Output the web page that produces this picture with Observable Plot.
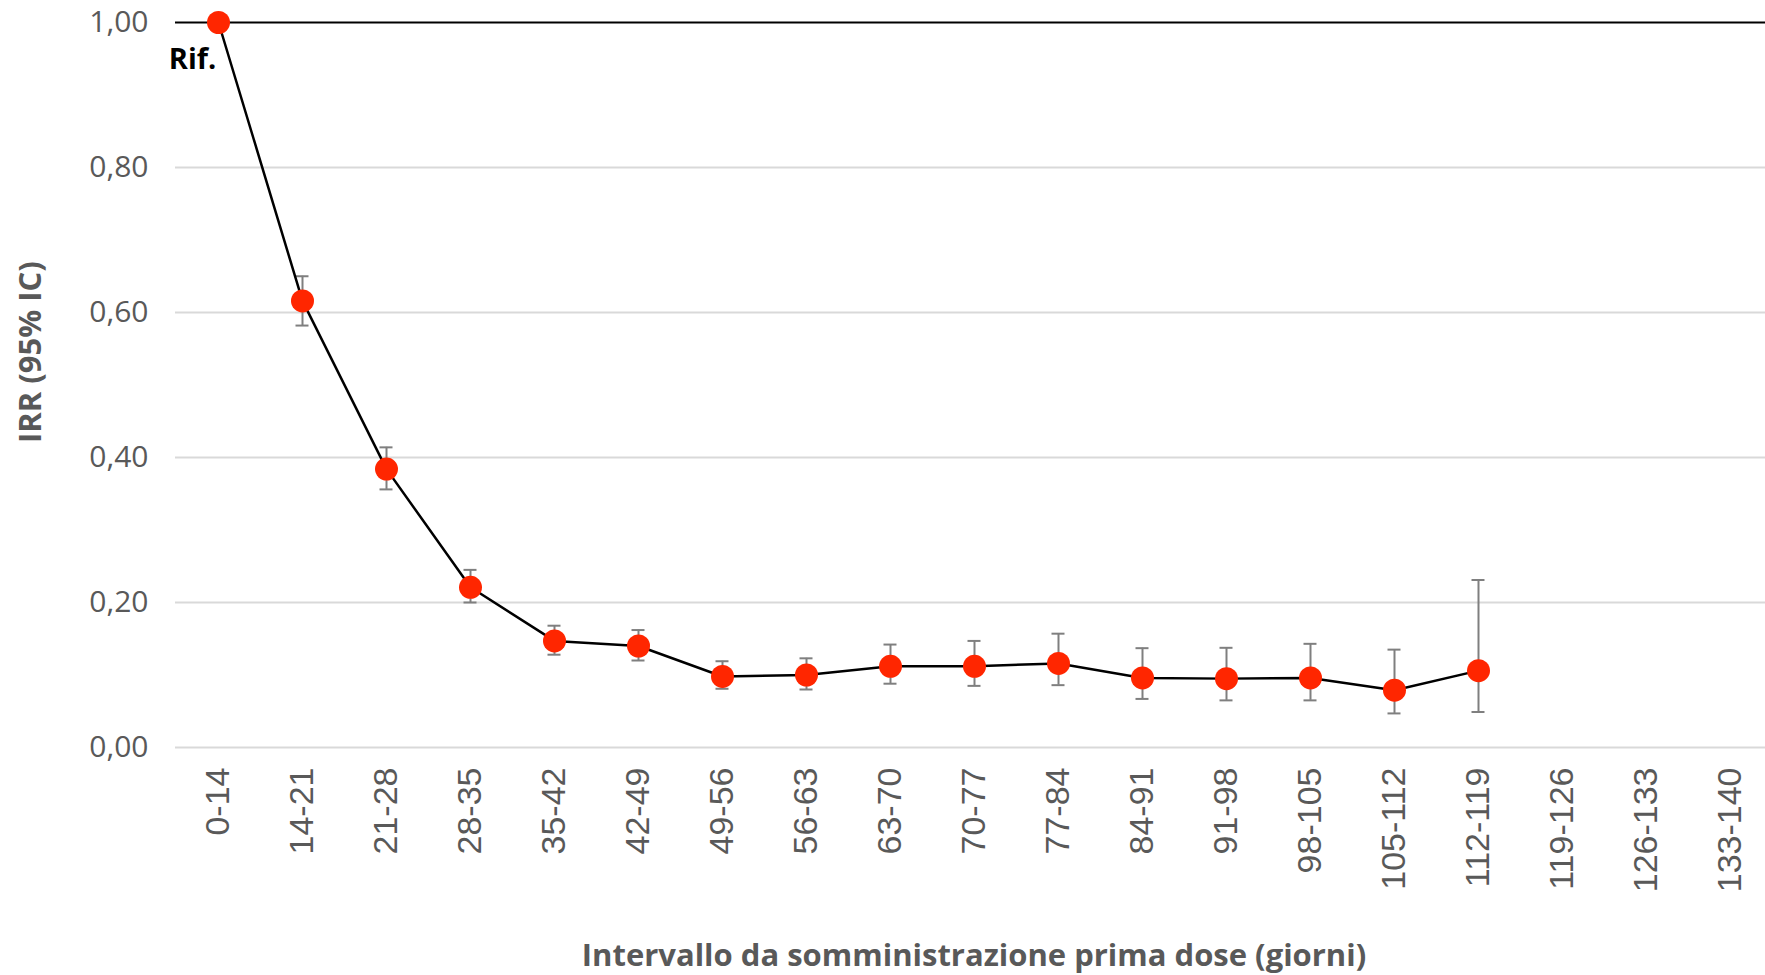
<!DOCTYPE html>
<html>
<head>
<meta charset="utf-8">
<script src="https://cdn.jsdelivr.net/npm/d3@7"></script>
<script src="https://cdn.jsdelivr.net/npm/@observablehq/plot@0.6"></script>
<style>
  html, body { margin: 0; padding: 0; background: #fff; }
  #chart svg { display: block; }
</style>
</head>
<body>
<div id="chart"></div>
<script>
const categories = ["0-14","14-21","21-28","28-35","35-42","42-49","49-56","56-63","63-70","70-77","77-84","84-91","91-98","98-105","105-112","112-119","119-126","126-133","133-140"];
const irr   = [1.00, 0.616, 0.384, 0.221, 0.147, 0.140, 0.098, 0.100, 0.112, 0.112, 0.116, 0.096, 0.095, 0.096, 0.079, 0.106, null, null, null];
const lower = [null, 0.582, 0.356, 0.200, 0.128, 0.120, 0.081, 0.080, 0.088, 0.085, 0.086, 0.067, 0.065, 0.065, 0.047, 0.049, null, null, null];
const upper = [null, 0.650, 0.414, 0.245, 0.168, 0.162, 0.119, 0.123, 0.142, 0.147, 0.157, 0.137, 0.1375, 0.143, 0.135, 0.231, null, null, null];
const yTicks = [0, 0.2, 0.4, 0.6, 0.8, 1.0];
const gridTicks = [0, 0.2, 0.4, 0.6, 0.8];
const refLine = [1.0];
const refLabel = "Rif.";
const yTitle = "IRR (95% IC)";
const xTitle = "Intervallo da somministrazione prima dose (giorni)";

const data = categories.map((c, i) => ({cat: c, v: irr[i], lo: lower[i], hi: upper[i]}));
const withV = data.filter(d => d.v != null);
const withCI = data.filter(d => d.lo != null);

const chart = Plot.plot({
  width: 1765,
  height: 975,
  marginLeft: 175,
  marginRight: -7,
  marginTop: 22,
  marginBottom: 228,
  style: {background: "#fff"},
  x: {type: "band", domain: categories, padding: 0},
  y: {domain: [0, 1]},
  marks: [
    Plot.gridY(gridTicks, {stroke: "#d9d9d9", strokeOpacity: 1, strokeWidth: 2}),
    Plot.ruleY(refLine, {stroke: "#000", strokeWidth: 2}),
    Plot.axisY(yTicks, {
      tickSize: 0, tickPadding: 27, fontSize: 30, fontFamily: "Open Sans", fill: "#595959",
      tickFormat: d => d.toFixed(2).replace(".", ","), label: null
    }),
    Plot.axisX({
      tickSize: 0, tickPadding: 20, tickRotate: -90, fontSize: 34, fontFamily: "Liberation Sans", fill: "#595959",
      label: null
    }),
    Plot.text([yTitle], {frameAnchor: "left", rotate: -90, dx: -144, dy: 58, fontSize: 31, fontWeight: 700, fontFamily: "Open Sans", fill: "#595959"}),
    Plot.text([xTitle], {frameAnchor: "bottom", dy: 218, fontSize: 31, fontWeight: 700, fontFamily: "Open Sans", fill: "#595959"}),
    Plot.ruleX(withCI, {x: "cat", y1: "lo", y2: "hi", stroke: "#7f7f7f", strokeWidth: 2}),
    Plot.tickY(withCI, {x: "cat", y: "lo", stroke: "#7f7f7f", strokeWidth: 2, insetLeft: 35.5, insetRight: 35.5}),
    Plot.tickY(withCI, {x: "cat", y: "hi", stroke: "#7f7f7f", strokeWidth: 2, insetLeft: 35.5, insetRight: 35.5}),
    Plot.line(withV, {x: "cat", y: "v", stroke: "#000", strokeWidth: 2.5}),
    Plot.dot(withV, {x: "cat", y: "v", r: 11.5, fill: "#ff2600", stroke: "none"}),
    Plot.text([data[0]], {x: "cat", y: "v", text: () => refLabel, dx: -26, dy: 37, fontSize: 29, fontWeight: 700, fontFamily: "Open Sans", fill: "#000"})
  ]
});
document.getElementById("chart").appendChild(chart);
</script>
</body>
</html>
